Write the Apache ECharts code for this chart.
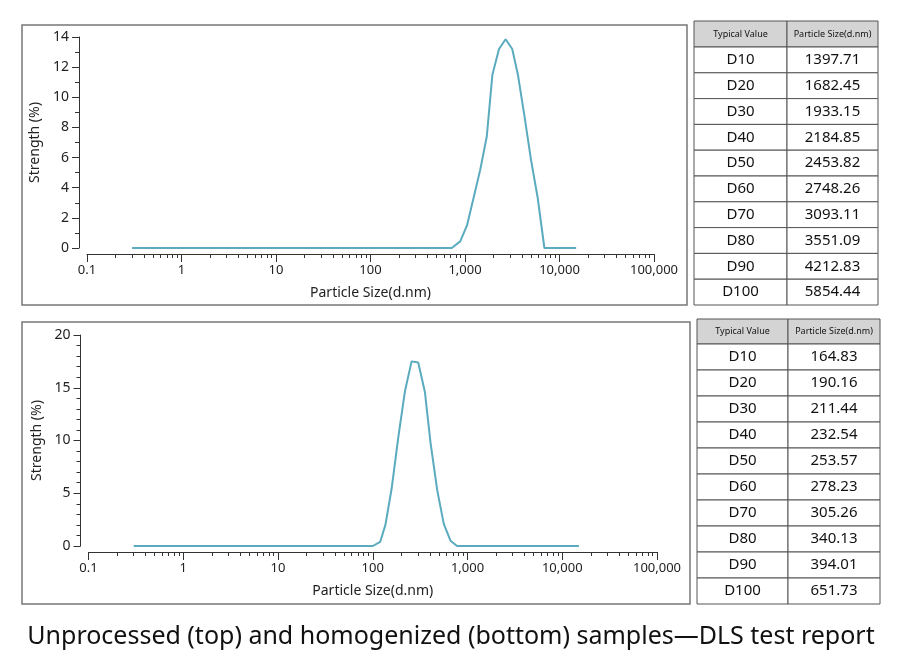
<!DOCTYPE html>
<html><head><meta charset="utf-8">
<script src="https://cdn.jsdelivr.net/npm/echarts@6/dist/echarts.min.js"></script>
<style>html,body{margin:0;background:#fff}#c{width:900px;height:669px}</style>
</head><body><div id="c"></div>
<script>
// top sample (unprocessed)
const topSize = [0.3, 724, 890, 1050, 1230, 1450, 1700, 1950, 2290, 2690, 3160, 3630, 4270, 5010, 5890, 6920, 15000]
const topStrength = [0, 0, 0.44, 1.5, 3.3, 5.2, 7.4, 11.5, 13.2, 13.85, 13.2, 11.5, 8.7, 5.8, 3.3, 0, 0]
// bottom sample (homogenized)
const botSize = [0.3, 100, 120, 136, 158, 186, 219, 257, 302, 355, 407, 479, 562, 661, 776, 15000]
const botStrength = [0, 0, 0.4, 2, 5.4, 10.3, 14.7, 17.5, 17.4, 14.6, 9.8, 5.3, 2.1, 0.5, 0, 0]

const dLabels = ['D10', 'D20', 'D30', 'D40', 'D50', 'D60', 'D70', 'D80', 'D90', 'D100']
const topD = ['1397.71', '1682.45', '1933.15', '2184.85', '2453.82', '2748.26', '3093.11', '3551.09', '4212.83', '5854.44']
const botD = ['164.83', '190.16', '211.44', '232.54', '253.57', '278.23', '305.26', '340.13', '394.01', '651.73']

const FONT = '"Noto Sans", "Open Sans", sans-serif'
const LINE = '#5aabbe'
const majors = [-1, 0, 1, 2, 3, 4, 5]
const minors = []
for (let d = -1; d < 5; d++) for (let k = 2; k <= 9; k++) minors.push(d + Math.log10(k))
const fmt = v => {
  const n = Math.pow(10, Math.round(v))
  return n < 1 ? '0.1' : n.toLocaleString('en-US')
}

const chart = echarts.init(document.getElementById('c'))

const xAxes = (gi) => [{
  gridIndex: gi, type: 'value', position: 'bottom', min: -1, max: 5, offset: 6,
  name: 'Particle Size(d.nm)', nameLocation: 'middle', nameGap: 32,
  nameTextStyle: {fontFamily: FONT, fontSize: 14, color: '#222'},
  axisLine: {onZero: false, lineStyle: {color: '#333', width: 1}},
  axisTick: {customValues: majors, length: 8, lineStyle: {color: '#333'}},
  axisLabel: {customValues: majors, formatter: fmt, fontFamily: FONT, fontSize: 13, color: '#222', margin: 10},
  splitLine: {show: false}
}, {
  gridIndex: gi, type: 'value', position: 'bottom', min: -1, max: 5, offset: 6,
  axisLine: {show: false, onZero: false},
  axisTick: {customValues: minors, length: 4, lineStyle: {color: '#333'}},
  axisLabel: {show: false}, splitLine: {show: false}
}]

const yAxis = (gi, max, interval, minorSplit) => ({
  gridIndex: gi, type: 'value', position: 'left', min: 0, max, interval, offset: 8,
  name: 'Strength (%)', nameLocation: 'middle', nameGap: 36,
  nameTextStyle: {fontFamily: FONT, fontSize: 14, color: '#222'},
  axisLine: {show: true, onZero: false, lineStyle: {color: '#333'}},
  axisTick: {show: true, length: 7, lineStyle: {color: '#333'}},
  minorTick: {show: true, splitNumber: minorSplit, length: 4, lineStyle: {color: '#333'}},
  axisLabel: {fontFamily: FONT, fontSize: 14, color: '#222', margin: 10},
  splitLine: {show: false}
})

// table graphics built from the arrays
const table = (x, y, w1, w2, hh, rh, vals) => {
  const els = []
  const cell = (cx, cy, w, h, fill, text, fs) => {
    els.push({type: 'rect', shape: {x: cx, y: cy, width: w, height: h},
      style: {fill, stroke: '#555', lineWidth: 1}})
    els.push({type: 'text', x: cx + w / 2, y: cy + h / 2,
      style: {text, fontFamily: FONT, fontSize: fs, fill: '#111', align: 'center', verticalAlign: 'middle'}})
  }
  cell(x, y, w1, hh, '#d4d4d4', 'Typical Value', 9)
  cell(x + w1, y, w2, hh, '#d4d4d4', 'Particle Size(d.nm)', 9)
  dLabels.forEach((d, i) => {
    cell(x, y + hh + i * rh, w1, rh, '#fff', d, 15)
    cell(x + w1, y + hh + i * rh, w2, rh, '#fff', vals[i], 15)
  })
  return els
}

const graphic = [
  {type: 'rect', shape: {x: 22, y: 25, width: 665, height: 280}, style: {fill: 'none', stroke: '#777', lineWidth: 1.5}},
  {type: 'rect', shape: {x: 22, y: 322, width: 668, height: 282}, style: {fill: 'none', stroke: '#777', lineWidth: 1.5}},
  ...table(694, 21, 93, 91, 26, 25.8, topD),
  ...table(697, 319, 91, 92, 25, 26, botD),
  {type: 'text', x: 451, y: 637, style: {text: 'Unprocessed (top) and homogenized (bottom) samples\u2014DLS test report',
    fontFamily: FONT, fontSize: 25, fill: '#111', align: 'center', verticalAlign: 'middle'}}
]

chart.setOption({
  animation: false,
  grid: [
    {left: 87, right: 246, top: 37, bottom: 421},
    {left: 88.5, right: 243, top: 335, bottom: 123}
  ],
  xAxis: [...xAxes(0), ...xAxes(1)],
  yAxis: [yAxis(0, 14, 2, 2), yAxis(1, 20, 5, 5)],
  series: [{
    type: 'line', xAxisIndex: 0, yAxisIndex: 0, symbol: 'none',
    lineStyle: {color: LINE, width: 2},
    data: topSize.map((s, i) => [Math.log10(s), topStrength[i]])
  }, {
    type: 'line', xAxisIndex: 2, yAxisIndex: 1, symbol: 'none',
    lineStyle: {color: LINE, width: 2},
    data: botSize.map((s, i) => [Math.log10(s), botStrength[i]])
  }],
  graphic
})
</script>
</body></html>
